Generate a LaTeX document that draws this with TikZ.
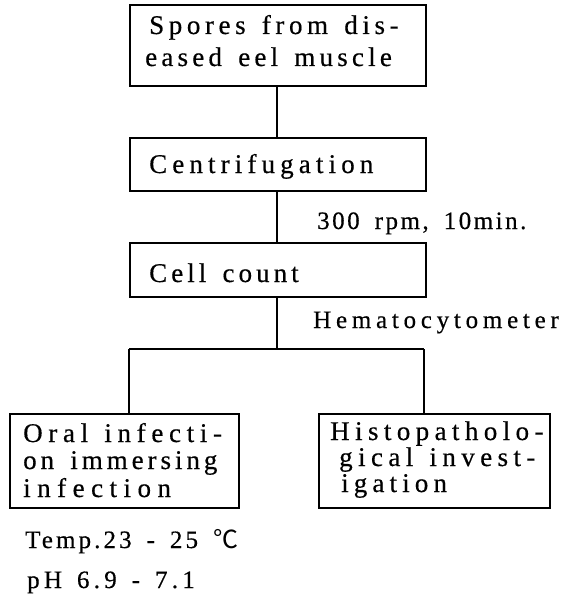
\documentclass[tikz,border=0pt]{standalone}
\usepackage{fontspec}
\setmainfont{Liberation Serif}
\newfontfamily\cjkfont{Noto Sans CJK JP}
\newcommand\lsp[2]{{\addfontfeatures{LetterSpace=#1,FakeBold=0.5}\spaceskip=0.6em\relax #2}}
\begin{document}
\begin{tikzpicture}[x=1pt,y=-1pt,
  boxstyle/.style={draw, line width=1.3pt, inner sep=0pt},
  conn/.style={line width=1.3pt},
  txt/.style={anchor=base west, inner sep=0pt, font=\fontsize{27}{27}\selectfont},
  lbl/.style={anchor=base west, inner sep=0pt, font=\fontsize{25}{25}\selectfont}]
\useasboundingbox (0,0) rectangle (569,596);
% boxes
\node[boxstyle, minimum width=296pt, minimum height=81pt] (spores) at (278,45.5) {};
\node[boxstyle, minimum width=296pt, minimum height=53pt] (centr) at (278,164.5) {};
\node[boxstyle, minimum width=296pt, minimum height=54pt] (cell) at (278,270) {};
\node[boxstyle, minimum width=229pt, minimum height=94pt] (oral) at (124.5,461) {};
\node[boxstyle, minimum width=231pt, minimum height=94pt] (histo) at (434.5,461) {};
% texts
\node[txt] (t1a) at (149,34) {\lsp{17}{Spores from dis-}};
\node[txt] (t1b) at (145,66) {\lsp{15.6}{eased eel muscle}};
\node[txt] (t2) at (149,173) {\lsp{19}{Centrifugation}};
\node[txt] (t3) at (149,282) {\lsp{15}{Cell count}};
\node[lbl] (l1) at (317,229) {\lsp{10}{300 rpm, 10min.}};
\node[lbl] (l2) at (313,328) {\lsp{19}{Hematocytometer}};
\node[txt] (o1) at (23,442) {\lsp{21}{Oral infecti-}};
\node[txt] (o2) at (23,469) {\lsp{14.6}{on immersing}};
\node[txt] (o3) at (23,497) {\lsp{24}{infection}};
\node[txt] (h1) at (330,440) {\lsp{20}{Histopatholo-}};
\node[txt] (h2) at (339,466) {\lsp{20}{gical invest-}};
\node[txt] (h3) at (341,492) {\lsp{19}{igation}};
\node[lbl] (c1) at (25,548) {\lsp{12.4}{Temp.23 - 25 }{\cjkfont ℃}};
\node[lbl] (c2) at (27,588) {\lsp{17}{pH 6.9 - 7.1}};
% connectors
\coordinate (split) at (277,349);
\coordinate (lj) at (129,349);
\coordinate (rj) at (424,349);
\draw[conn] (spores.south -| split) -- (centr.north -| split);
\draw[conn] (centr.south -| split) -- (cell.north -| split);
\draw[conn] (cell.south -| split) -- (split);
\draw[conn] (lj) -- (rj);
\draw[conn] (lj) -- (lj |- oral.north);
\draw[conn] (rj) -- (rj |- histo.north);
\end{tikzpicture}
\end{document}
